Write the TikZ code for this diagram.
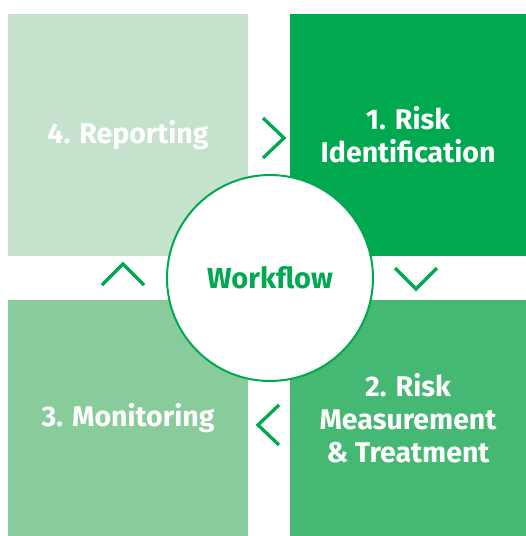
\documentclass[tikz,border=0pt]{standalone}
\usepackage{fontspec}
\setmainfont{Fira Sans}

\definecolor{riskgreen}{HTML}{00A84F}
\definecolor{paleone}{HTML}{C5E3CC}
\definecolor{midone}{HTML}{89CC9C}
\definecolor{lightone}{HTML}{45B873}

\tikzset{
  quad/.style={inner sep=0pt, align=center, text=white,
    font=\bfseries\fontsize{28.5}{33}\selectfont},
  chevron/.style={draw=riskgreen, line width=3.3pt}
}

\begin{document}
\begin{tikzpicture}[x=1pt,y=-1pt]
  \useasboundingbox (0,0) rectangle (526,536);

  % Draw the four coloured squares with the steps
  \node[quad, fill=paleone, minimum width=240pt, minimum height=242pt] (report) at (128,135) {4. Reporting};
  \node[quad, fill=riskgreen, minimum width=236pt, minimum height=242pt] (ident) at (408,135) {1. Risk\\Identification};
  \node[quad, fill=midone, minimum width=240pt, minimum height=236pt] (monitor) at (128,418) {3. Monitoring};
  \node[quad, fill=lightone, minimum width=236pt, minimum height=236pt] (measure) at (408,418) {2. Risk\\Measurement\\\& Treatment};

  % Draw the circle in the middle
  \node[circle, draw=riskgreen, line width=2pt, fill=white, minimum size=206pt,
    text=riskgreen, font=\bfseries\fontsize{29}{33}\selectfont] (flow) at (270,278) {Workflow};

  % Draw the chevrons between the squares
  \coordinate (rtip) at (284,138);
  \coordinate (dtip) at (416,289);
  \coordinate (ltip) at (258,425);
  \coordinate (utip) at (123,264);
  \draw[chevron] ([shift={(-21,-20)}]rtip) -- (rtip) -- ([shift={(-21,20)}]rtip);
  \draw[chevron] ([shift={(-21,-21)}]dtip) -- (dtip) -- ([shift={(21,-21)}]dtip);
  \draw[chevron] ([shift={(21,-20)}]ltip) -- (ltip) -- ([shift={(21,20)}]ltip);
  \draw[chevron] ([shift={(-21,21)}]utip) -- (utip) -- ([shift={(21,21)}]utip);
\end{tikzpicture}
\end{document}
